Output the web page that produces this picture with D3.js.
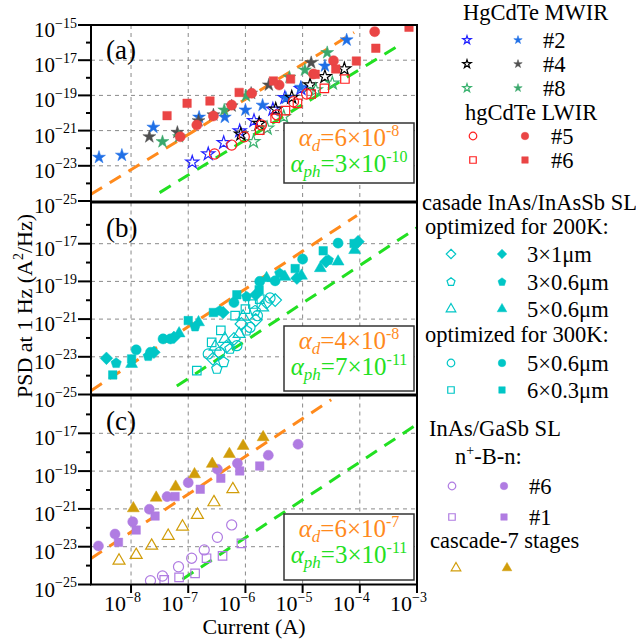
<!DOCTYPE html>
<html>
<head>
<meta charset="utf-8">
<script src="https://cdn.jsdelivr.net/npm/d3@7"></script>
<style>
  body { margin: 0; background: #fff; }
  svg { display: block; font-family: "Liberation Serif", "Times New Roman", serif; }
</style>
</head>
<body>
<svg id="chart" width="636" height="641"></svg>
<script>
// Every point is [log10 current (A), log10 PSD at 1 Hz (A^2/Hz)]

// (a) HgCdTe
const hg2Open = [[-6.93,-22.80],[-6.65,-22.33],[-6.38,-21.69],[-6.10,-21.02],[-5.85,-20.44],[-5.52,-19.79],[-5.31,-19.13],[-5.03,-18.62]];
const hg2Filled = [[-8.56,-22.52],[-8.16,-22.40],[-7.61,-20.81],[-6.81,-20.24],[-6.36,-20.24],[-6.00,-19.83],[-5.70,-19.56],[-5.29,-19.16],[-5.03,-18.54],[-4.61,-17.33],[-4.23,-15.85]];
const hg4Open = [[-6.08,-21.21],[-5.76,-20.59],[-5.47,-19.79],[-5.19,-19.11],[-4.87,-18.41],[-4.61,-17.94],[-4.27,-17.50]];
const hg4Filled = [[-7.68,-21.35],[-7.19,-21.10],[-6.82,-20.44],[-6.56,-20.11],[-6.24,-19.60],[-5.90,-18.88],[-5.59,-18.41],[-4.85,-17.14]];
const hg8Open = [[-5.86,-21.63],[-5.62,-20.87],[-5.33,-20.21],[-4.77,-18.69],[-4.48,-18.31]];
const hg8Filled = [[-7.45,-21.63],[-7.16,-21.35],[-6.37,-19.83],[-5.99,-19.03],[-5.23,-17.97],[-4.96,-17.56],[-4.57,-16.57]];
const hg5Open = [[-6.54,-22.33],[-6.24,-21.82],[-6.02,-21.35],[-5.72,-20.68],[-5.45,-20.11],[-5.16,-19.36],[-4.93,-18.92]];
const hg5Filled = [[-7.14,-21.35],[-6.85,-20.68],[-6.56,-20.17],[-6.24,-19.55],[-5.89,-18.88],[-5.41,-18.41],[-4.81,-17.78],[-4.46,-17.03],[-3.74,-15.38]];
const hg6Open = [[-5.75,-20.97],[-5.48,-20.30],[-5.30,-19.87],[-5.09,-19.45],[-4.85,-18.92],[-4.62,-18.60],[-4.26,-18.07]];
const hg6Filled = [[-7.37,-20.15],[-7.02,-19.45],[-6.62,-19.32],[-6.11,-18.83],[-5.51,-18.18],[-5.21,-18.07],[-4.78,-17.80],[-4.42,-17.50],[-4.06,-17.05],[-3.72,-16.32],[-3.14,-15.13]];

// (b) cascade InAs/InAsSb SL
const sl31Open = [[-6.57,-23.11],[-6.33,-22.46],[-6.20,-22.05],[-6.07,-21.26],[-5.82,-21.05],[-5.63,-20.12],[-5.48,-19.99]];
const sl31Filled = [[-8.43,-23.08],[-7.60,-22.76],[-7.25,-21.97],[-6.39,-20.65],[-5.82,-19.71],[-5.10,-18.83],[-4.59,-17.95],[-4.03,-16.89]];
const sl306Open = [[-6.50,-23.64],[-6.38,-23.29],[-6.27,-22.58],[-5.98,-21.61],[-5.83,-20.56]];
const sl306Filled = [[-8.26,-23.34],[-7.70,-22.97],[-6.88,-21.40],[-6.45,-20.56],[-5.98,-19.81],[-5.40,-18.58],[-4.55,-17.87]];
const sl506Open = [[-6.53,-22.46],[-6.36,-22.05],[-6.11,-21.79],[-6.04,-20.87],[-5.70,-20.38]];
const sl506Filled = [[-7.99,-23.38],[-7.16,-21.76],[-6.82,-21.17],[-5.63,-18.83],[-5.31,-18.76],[-5.02,-18.70],[-4.69,-18.30],[-4.38,-17.95],[-4.09,-17.34]];
const sl506hOpen = [[-6.65,-22.85],[-6.45,-22.76],[-6.15,-22.41],[-5.92,-21.44],[-5.79,-20.82],[-5.57,-19.88]];
const sl506hFilled = [[-7.91,-22.63],[-7.66,-22.76],[-7.44,-22.05],[-7.31,-22.05],[-6.20,-20.12],[-5.75,-19.00],[-5.48,-18.97],[-5.00,-17.82],[-4.38,-16.97]];
const sl603Open = [[-6.85,-23.73],[-6.59,-22.23],[-6.43,-21.60],[-6.18,-20.82],[-6.00,-20.47],[-5.87,-20.20],[-5.75,-19.94]];
const sl603Filled = [[-8.32,-23.96],[-7.99,-23.11],[-7.00,-21.08],[-6.56,-20.65],[-6.15,-19.71],[-5.76,-19.44],[-5.13,-18.32],[-4.64,-17.38],[-4.10,-16.99]];

// (c) InAs/GaSb SL
const nbn6Open = [[-7.66,-24.80],[-7.45,-24.55],[-7.17,-24.06],[-6.94,-23.61],[-6.72,-23.17],[-6.49,-22.50],[-6.24,-21.85]];
const nbn6Filled = [[-8.57,-22.96],[-8.28,-22.33],[-7.97,-21.68],[-7.68,-21.02],[-7.37,-20.35],[-7.00,-19.61],[-6.49,-18.90],[-6.14,-18.59],[-5.60,-18.16],[-5.08,-17.58]];
const nbn1Open = [[-7.42,-24.76],[-7.16,-24.62],[-6.88,-24.41],[-6.68,-23.61],[-6.40,-23.49],[-6.07,-22.82]];
const nbn1Filled = [[-8.22,-22.77],[-7.91,-22.12],[-7.58,-21.38],[-7.23,-20.35],[-6.79,-19.96],[-6.43,-19.38],[-6.10,-18.99],[-5.75,-18.73]];
const casc7Open = [[-8.21,-23.74],[-7.91,-23.44],[-7.64,-22.95],[-7.35,-22.43],[-7.10,-21.94],[-6.84,-21.32],[-6.55,-20.65],[-6.22,-19.96]];
const casc7Filled = [[-7.96,-20.97],[-7.56,-20.41],[-7.22,-19.83],[-6.89,-19.17],[-6.58,-18.62],[-6.28,-18.10],[-6.04,-17.67],[-5.69,-17.21]];

// Noise coefficients: PSD = alpha * I^2, drawn between the given currents (log10 A)
const alphaD = [6e-8, 4e-8, 6e-7];
const alphaPh = [3e-10, 7e-11, 3e-11];
const dLineRange = [[-8.7, -4.1], [-8.7, -4.05], [-8.7, -4.5]];
const phLineRange = [[-7.5, -3.27], [-7.2, -3.0], [-7.1, -3.0]];
const alphaDLabel = ["6", "-8", "4", "-8", "6", "-7"];
const alphaPhLabel = ["3", "-10", "7", "-11", "3", "-11"];

const xTickExps = [-8, -7, -6, -5, -4, -3];
const yTickExps = [-15, -16, -17, -18, -19, -20, -21, -22, -23, -24, -25];
const yGridExps = [-17, -19, -21, -23];
const xGridExps = [-8, -7, -6, -5, -4];
const panelNames = ["(a)", "(b)", "(c)"];

// ---- styles ----
const C = {
  blueO: "#2323ff", blueF: "#1f6fe6",
  blackO: "#000", blackF: "#505050",
  greenO: "#3cb371", greenF: "#3aa86c",
  redO: "#ff1f1f", redF: "#ea4545",
  cyan: "#00c6c6", purple: "#b07ce2", gold: "#d19d0a",
  orange: "#ff8a1c", lime: "#22e022"
};

const pentagon = {
  draw(ctx, size) {
    const r = Math.sqrt(size / (2.5 * Math.sin(2 * Math.PI / 5)));
    for (let i = 0; i < 5; i++) {
      const a = -Math.PI / 2 + i * 2 * Math.PI / 5;
      const px = r * Math.cos(a), py = r * Math.sin(a);
      if (i) ctx.lineTo(px, py); else ctx.moveTo(px, py);
    }
    ctx.closePath();
  }
};
const diamond = {
  draw(ctx, size) {
    const r = Math.sqrt(size / 2);
    ctx.moveTo(0, -r); ctx.lineTo(r, 0); ctx.lineTo(0, r); ctx.lineTo(-r, 0); ctx.closePath();
  }
};
const SHAPES = {
  star: [d3.symbolStar, 52, 22],
  circle: [d3.symbolCircle, 80, 45],
  square: [d3.symbolSquare, 72, 42],
  triangle: [d3.symbolTriangle, 62, 40],
  pentagon: [pentagon, 70, 42],
  diamond: [diamond, 80, 45]
};

const series = [
  [0, hg2Open, "star", C.blueO, false], [0, hg2Filled, "star", C.blueF, true],
  [0, hg4Open, "star", C.blackO, false], [0, hg4Filled, "star", C.blackF, true],
  [0, hg8Open, "star", C.greenO, false], [0, hg8Filled, "star", C.greenF, true],
  [0, hg5Open, "circle", C.redO, false], [0, hg5Filled, "circle", C.redF, true],
  [0, hg6Open, "square", C.redO, false], [0, hg6Filled, "square", C.redF, true],
  [1, sl31Filled, "diamond", C.cyan, true], [1, sl306Filled, "pentagon", C.cyan, true],
  [1, sl506Filled, "triangle", C.cyan, true], [1, sl506hFilled, "circle", C.cyan, true],
  [1, sl603Filled, "square", C.cyan, true],
  [1, sl31Open, "diamond", C.cyan, false], [1, sl306Open, "pentagon", C.cyan, false],
  [1, sl506Open, "triangle", C.cyan, false], [1, sl506hOpen, "circle", C.cyan, false],
  [1, sl603Open, "square", C.cyan, false],
  [2, nbn6Open, "circle", C.purple, false], [2, nbn6Filled, "circle", C.purple, true],
  [2, nbn1Open, "square", C.purple, false], [2, nbn1Filled, "square", C.purple, true],
  [2, casc7Open, "triangle", C.gold, false], [2, casc7Filled, "triangle", C.gold, true]
];

const svg = d3.select("#chart");
const x = d3.scaleLog().domain([10 ** -8.7, 1e-3]).range([91, 417]);

// panel geometry: frame top/bottom and the pixel rows of 1e-15 and 1e-25
const panelGeo = [
  { frameTop: 25, frameBottom: 201.5, y15: 25, y25: 201 },
  { frameTop: 202.5, frameBottom: 394.5, y15: 206, y25: 394.5 },
  { frameTop: 395.5, frameBottom: 584.5, y15: 395.5, y25: 584.5 }
];

function symbolPath(shape, small) {
  const s = SHAPES[shape];
  return d3.symbol().type(s[0]).size(small ? s[2] : s[1])();
}

function supLabel(sel, base, exp, baseSize, supSize, supDy) {
  sel.append("tspan").style("font-size", baseSize + "px").text(base);
  sel.append("tspan").style("font-size", supSize + "px").attr("dy", supDy).text(exp);
}

panelGeo.forEach((g, i) => {
  const y = d3.scaleLog().domain([1e-25, 1e-15]).range([g.y25, g.y15]);
  const panel = svg.append("g");
  const clipId = "clip" + i;
  svg.append("clipPath").attr("id", clipId).append("rect")
    .attr("x", 91).attr("y", g.frameTop).attr("width", 326).attr("height", g.frameBottom - g.frameTop);

  // grid
  const grid = panel.append("g").attr("stroke", "#8a8a8a").attr("stroke-width", 1).attr("stroke-dasharray", "4,4");
  grid.selectAll("line.gx").data(xGridExps).join("line")
    .attr("x1", d => x(10 ** d)).attr("x2", d => x(10 ** d))
    .attr("y1", g.frameTop).attr("y2", g.frameBottom);
  grid.selectAll("line.gy").data(yGridExps).join("line")
    .attr("x1", 91).attr("x2", 417)
    .attr("y1", d => y(10 ** d)).attr("y2", d => y(10 ** d));

  // fit lines PSD = alpha * I^2
  const fitPath = (alpha, range) => {
    const pts = range.map(e => [x(10 ** e), y(alpha * (10 ** e) ** 2)]);
    return d3.line()(pts);
  };
  const fits = panel.append("g").attr("clip-path", `url(#${clipId})`).attr("fill", "none")
    .attr("stroke-width", 3).attr("stroke-dasharray", "13,9");
  fits.append("path").attr("d", fitPath(alphaD[i], dLineRange[i])).attr("stroke", C.orange);
  fits.append("path").attr("d", fitPath(alphaPh[i], phLineRange[i])).attr("stroke", C.lime);

  // data points
  const pts = panel.append("g").attr("clip-path", `url(#${clipId})`);
  series.filter(s => s[0] === i).forEach(s => {
    const [, data, shape, color, filled] = s;
    pts.append("g").selectAll("path").data(data).join("path")
      .attr("transform", d => `translate(${x(10 ** d[0])},${y(10 ** d[1])})`)
      .attr("d", symbolPath(shape, false))
      .attr("fill", filled ? color : "none")
      .attr("stroke", color)
      .attr("stroke-width", filled ? 0.5 : 1.2);
  });

  // annotation box
  const boxTop = [123, 326, 514][i], boxH = [60, 65, 66][i];
  const box = panel.append("g");
  box.append("rect").attr("x", 284).attr("y", boxTop).attr("width", 130).attr("height", boxH)
    .attr("fill", "#fff").attr("stroke", "#333").attr("stroke-width", 1.5);
  const l1 = box.append("text").attr("x", 349).attr("y", boxTop + 23).attr("text-anchor", "middle")
    .attr("fill", C.orange).style("font-size", "25px");
  l1.append("tspan").style("font-style", "italic").text("α");
  l1.append("tspan").style("font-style", "italic").style("font-size", "17px").attr("dy", 5).text("d");
  l1.append("tspan").attr("dy", -5).text("=" + alphaDLabel[2 * i] + "×10");
  l1.append("tspan").style("font-size", "16px").attr("dy", -10).text(alphaDLabel[2 * i + 1]);
  const l2 = box.append("text").attr("x", 349).attr("y", boxTop + 49).attr("text-anchor", "middle")
    .attr("fill", C.lime).style("font-size", "25px");
  l2.append("tspan").style("font-style", "italic").text("α");
  l2.append("tspan").style("font-style", "italic").style("font-size", "17px").attr("dy", 5).text("ph");
  l2.append("tspan").attr("dy", -5).text("=" + alphaPhLabel[2 * i] + "×10");
  l2.append("tspan").style("font-size", "16px").attr("dy", -10).text(alphaPhLabel[2 * i + 1]);

  // frame
  panel.append("rect").attr("x", 91).attr("y", g.frameTop).attr("width", 326)
    .attr("height", g.frameBottom - g.frameTop).attr("fill", "none").attr("stroke", "#000").attr("stroke-width", 2);

  // y ticks
  const ticks = yTickExps.filter(e => i === 0 || e !== -15);
  panel.selectAll("line.yt").data(ticks).join("line")
    .attr("x1", d => (d % 2 !== 0 ? 78 : 86)).attr("x2", 91)
    .attr("y1", d => y(10 ** d)).attr("y2", d => y(10 ** d))
    .attr("stroke", "#000").attr("stroke-width", 2);
  ticks.filter(d => d % 2 !== 0).forEach(d => {
    const t = panel.append("text").attr("x", 77).attr("y", y(10 ** d) + 12).attr("text-anchor", "end");
    supLabel(t, "10", "−" + (-d), 21, 14, -9.5);
  });

  // panel letter
  panel.append("text").attr("x", 106).attr("y", g.frameTop + 34).style("font-size", "27px").text(panelNames[i]);
});

// x axis ticks and labels (bottom panel)
const xAxis = svg.append("g");
xAxis.selectAll("line").data(xTickExps).join("line")
  .attr("x1", d => x(10 ** d)).attr("x2", d => x(10 ** d))
  .attr("y1", 584.5).attr("y2", 593).attr("stroke", "#000").attr("stroke-width", 2);
xTickExps.forEach(d => {
  const t = xAxis.append("text").attr("x", x(10 ** d) - 27).attr("y", 611);
  supLabel(t, "10", "−" + (-d), 22, 14, -9);
});
xAxis.append("text").attr("x", 254).attr("y", 634).attr("text-anchor", "middle")
  .style("font-size", "22px").text("Current (A)");

// y axis title
const yt = svg.append("text").attr("transform", "translate(32,306) rotate(-90)").attr("text-anchor", "middle")
  .style("font-size", "22px");
yt.append("tspan").text("PSD at 1 Hz (A");
yt.append("tspan").style("font-size", "14px").attr("dy", -9).text("2");
yt.append("tspan").attr("dy", 9).text("/Hz)");

// ---- legend ----
const legendTitles = [
  ["HgCdTe MWIR", 463, 20], ["hgCdTe LWIR", 465, 120],
  ["casade InAs/InAsSb SL", 422, 210], ["optimized for 200K:", 425, 234],
  ["optimized for 300K:", 425, 342],
  ["InAs/GaSb SL", 429, 436], ["cascade-7 stages", 430, 548]
];
// [shape, open colour, filled colour, label, open x, filled x, label x, row y]
const legendRows = [
  ["star", C.blueO, C.blueF, "#2", 467, 518, 543, 40],
  ["star", C.blackO, C.blackF, "#4", 467, 518, 543, 64],
  ["star", C.greenO, C.greenF, "#8", 467, 518, 543, 88],
  ["circle", C.redO, C.redF, "#5", 473, 525, 551, 136],
  ["square", C.redO, C.redF, "#6", 473, 525, 551, 160],
  ["diamond", C.cyan, C.cyan, "3×1μm", 451, 502, 527, 254],
  ["pentagon", C.cyan, C.cyan, "3×0.6μm", 451, 502, 527, 282],
  ["triangle", C.cyan, C.cyan, "5×0.6μm", 451, 502, 527, 309],
  ["circle", C.cyan, C.cyan, "5×0.6μm", 451, 502, 527, 363],
  ["square", C.cyan, C.cyan, "6×0.3μm", 451, 502, 527, 390],
  ["circle", C.purple, C.purple, "#6", 452, 504, 529, 486],
  ["square", C.purple, C.purple, "#1", 452, 504, 529, 517],
  ["triangle", C.gold, C.gold, "", 456, 507, 529, 568]
];
const legend = svg.append("g").style("font-size", "22.5px");
legendTitles.forEach(([t, lx, ly]) => legend.append("text").attr("x", lx).attr("y", ly).text(t));
const nb = legend.append("text").attr("x", 455).attr("y", 464);
nb.append("tspan").text("n");
nb.append("tspan").style("font-size", "14px").attr("dy", -9).text("+");
nb.append("tspan").attr("dy", 9).text("-B-n:");
legendRows.forEach(([shape, co, cf, label, ox, fx, tx, ry]) => {
  legend.append("path").attr("transform", `translate(${ox},${ry})`).attr("d", symbolPath(shape, true))
    .attr("fill", "none").attr("stroke", co).attr("stroke-width", 1.2);
  legend.append("path").attr("transform", `translate(${fx},${ry})`).attr("d", symbolPath(shape, true))
    .attr("fill", cf).attr("stroke", cf).attr("stroke-width", 0.5);
  if (label) legend.append("text").attr("x", tx).attr("y", ry + 7.5).text(label);
});
</script>
</body>
</html>
